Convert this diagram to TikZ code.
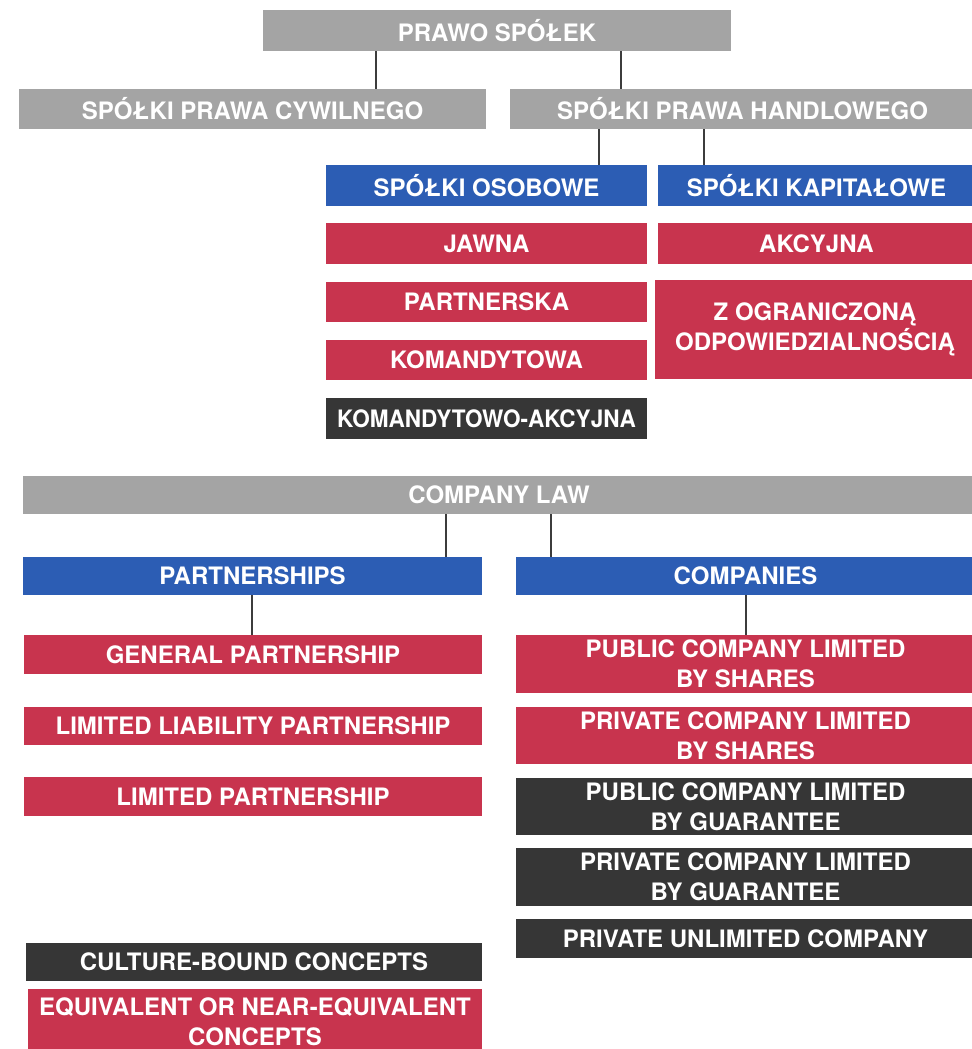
\documentclass[tikz,border=0pt]{standalone}
\usepackage{fontspec}
\setmainfont{TeX Gyre Heros}
\usepackage{tikz}

\definecolor{lawgrey}{RGB}{164,164,164}
\definecolor{groupblue}{RGB}{44,93,180}
\definecolor{kindred}{RGB}{200,52,78}
\definecolor{otherdark}{RGB}{54,54,54}
\definecolor{linkdark}{RGB}{60,60,60}

\tikzset{
  box/.style={rectangle, inner sep=0pt, align=center, text=white,
    font=\fontsize{18}{22.5}\selectfont\bfseries},
  boxw/.style={minimum width=#1*0.75pt},
  boxh/.style={minimum height=#1*0.75pt},
  greybox/.style={box, fill=lawgrey},
  bluebox/.style={box, fill=groupblue},
  redbox/.style={box, fill=kindred},
  darkbox/.style={box, fill=otherdark},
  link/.style={draw=linkdark, line width=1pt}
}

\begin{document}
\begin{tikzpicture}[x=0.75pt,y=0.75pt,yscale=-1,xscale=1]
\useasboundingbox (0,0) rectangle (971,1049);

% Polish chart
\node[greybox, boxw=468, boxh=41] (prawo) at (497,30.5) {PRAWO SPÓŁEK};
\node[greybox, boxw=467, boxh=40] (cywilne) at (252.5,109) {SPÓŁKI PRAWA CYWILNEGO};
\node[greybox, boxw=465, boxh=40] (handlowe) at (742.5,109) {SPÓŁKI PRAWA HANDLOWEGO};

\node[bluebox, boxw=321, boxh=41] (osobowe) at (486.5,185.5) {SPÓŁKI OSOBOWE};
\node[bluebox, boxw=317, boxh=41] (kapitalowe) at (816.5,185.5) {SPÓŁKI KAPITAŁOWE};

\node[redbox, boxw=321, boxh=41] (jawna) at (486.5,243.5) {JAWNA};
\node[redbox, boxw=321, boxh=40] (partnerska) at (486.5,302) {PARTNERSKA};
\node[redbox, boxw=321, boxh=40] (komandytowa) at (486.5,360) {KOMANDYTOWA};
\node[darkbox, boxw=321, boxh=41] (ska) at (486.5,418.5) {\scalebox{0.94}[1]{KOMANDYTOWO-AKCYJNA}};

\node[redbox, boxw=317, boxh=41] (akcyjna) at (816.5,243.5) {AKCYJNA};
\node[redbox, boxw=320, boxh=99] (zoo) at (815,329.5) {Z OGRANICZONĄ\\ODPOWIEDZIALNOŚCIĄ};

% English chart
\node[greybox, boxw=952, boxh=38] (companylaw) at (499,495) {COMPANY LAW};

\node[bluebox, boxw=459, boxh=38] (partnerships) at (252.5,576) {PARTNERSHIPS};
\node[bluebox, boxw=459, boxh=38] (companies) at (745.5,576) {COMPANIES};

\node[redbox, boxw=458, boxh=39] (general) at (253,654.5) {GENERAL PARTNERSHIP};
\node[redbox, boxw=458, boxh=38] (llp) at (253,726) {LIMITED LIABILITY PARTNERSHIP};
\node[redbox, boxw=458, boxh=39] (lp) at (253,796.5) {LIMITED PARTNERSHIP};

\node[redbox, boxw=459, boxh=58] (plcshares) at (745.5,664) {PUBLIC COMPANY LIMITED\\BY SHARES};
\node[redbox, boxw=459, boxh=57] (ltdshares) at (745.5,735.5) {PRIVATE COMPANY LIMITED\\BY SHARES};
\node[darkbox, boxw=459, boxh=57] (plcguar) at (745.5,806.5) {PUBLIC COMPANY LIMITED\\BY GUARANTEE};
\node[darkbox, boxw=459, boxh=58] (ltdguar) at (745.5,877) {PRIVATE COMPANY LIMITED\\BY GUARANTEE};
\node[darkbox, boxw=459, boxh=39] (unlimited) at (745.5,938.5) {PRIVATE UNLIMITED COMPANY};

% key
\node[darkbox, boxw=456, boxh=38] (culture) at (254,962) {CULTURE-BOUND CONCEPTS};
\node[redbox, boxw=454, boxh=66] (equivalent) at (255,1022) {EQUIVALENT OR NEAR-EQUIVALENT\\CONCEPTS};

% tree lines
\foreach \a/\b/\x in {prawo/cywilne/376, prawo/handlowe/621,
    handlowe/osobowe/599, handlowe/kapitalowe/704,
    companylaw/partnerships/446, companylaw/companies/551,
    partnerships/general/252, companies/plcshares/746}
  \draw[link] (\x,0 |- \a.south) -- (\x,0 |- \b.north);

\end{tikzpicture}
\end{document}
